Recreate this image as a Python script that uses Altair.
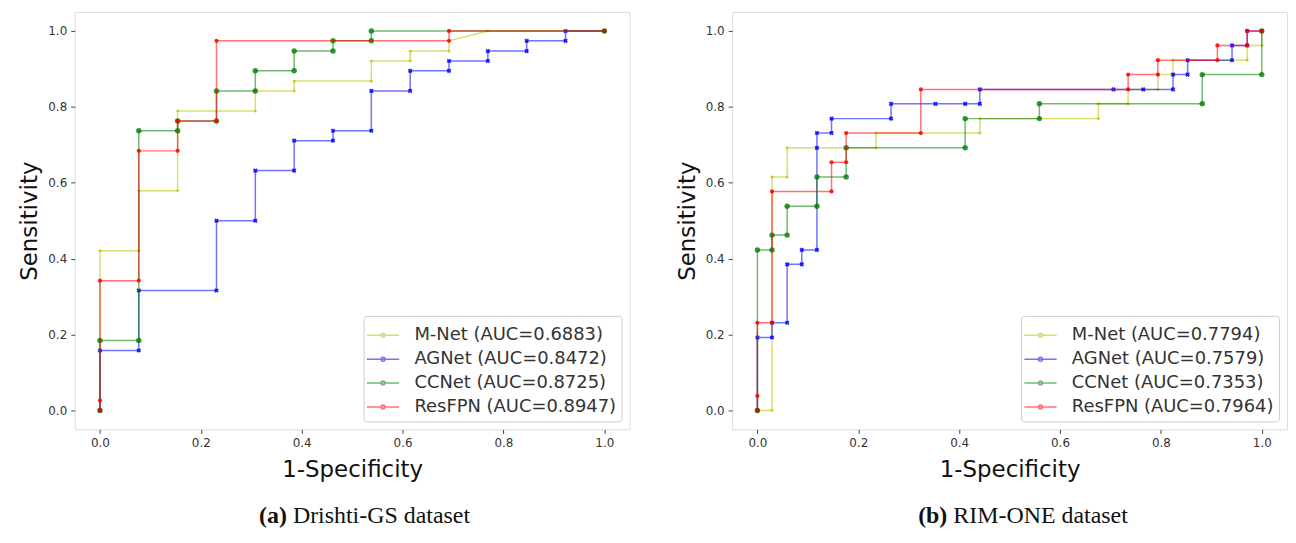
import altair as alt
import pandas as pd

names = ["M-Net", "AGNet", "CCNet", "ResFPN"]
colors = ["#bfbf00", "#0000ff", "#008000", "#ff0000"]
auc_a = ["0.6883", "0.8472", "0.8725", "0.8947"]
auc_b = ["0.7794", "0.7579", "0.7353", "0.7964"]
tick_vals = [0.0, 0.2, 0.4, 0.6, 0.8, 1.0]

# (a) Drishti-GS
a_mnet_x = [0, 0, 0.077, 0.077, 0.154, 0.154, 0.308, 0.308, 0.385, 0.385, 0.538, 0.538, 0.615, 0.615, 0.692, 0.692, 0.769, 1.0]
a_mnet_y = [0, 0.421, 0.421, 0.579, 0.579, 0.789, 0.789, 0.842, 0.842, 0.868, 0.868, 0.921, 0.921, 0.947, 0.947, 0.974, 1.0, 1.0]
a_agnet_x = [0, 0, 0.077, 0.077, 0.231, 0.231, 0.308, 0.308, 0.385, 0.385, 0.462, 0.462, 0.538, 0.538, 0.615, 0.615, 0.692, 0.692, 0.769, 0.769, 0.846, 0.846, 0.923, 0.923, 1.0]
a_agnet_y = [0, 0.158, 0.158, 0.316, 0.316, 0.5, 0.5, 0.632, 0.632, 0.711, 0.711, 0.737, 0.737, 0.842, 0.842, 0.895, 0.895, 0.921, 0.921, 0.947, 0.947, 0.974, 0.974, 1.0, 1.0]
a_ccnet_x = [0, 0, 0.077, 0.077, 0.154, 0.154, 0.231, 0.231, 0.308, 0.308, 0.385, 0.385, 0.462, 0.462, 0.538, 0.538, 1.0]
a_ccnet_y = [0, 0.184, 0.184, 0.737, 0.737, 0.763, 0.763, 0.842, 0.842, 0.895, 0.895, 0.947, 0.947, 0.974, 0.974, 1.0, 1.0]
a_resfpn_x = [0, 0, 0, 0.077, 0.077, 0.154, 0.154, 0.231, 0.231, 0.692, 0.692, 1.0]
a_resfpn_y = [0, 0.026, 0.342, 0.342, 0.684, 0.684, 0.763, 0.763, 0.974, 0.974, 1.0, 1.0]

# (b) RIM-ONE
b_mnet_x = [0, 0.029, 0.029, 0.059, 0.059, 0.235, 0.235, 0.441, 0.441, 0.676, 0.676, 0.735, 0.735, 0.794, 0.794, 0.824, 0.824, 0.971, 0.971, 1.0, 1.0]
b_mnet_y = [0, 0, 0.615, 0.615, 0.692, 0.692, 0.731, 0.731, 0.769, 0.769, 0.808, 0.808, 0.846, 0.846, 0.885, 0.885, 0.923, 0.923, 0.962, 0.962, 1.0]
b_agnet_x = [0, 0, 0.029, 0.029, 0.059, 0.059, 0.088, 0.088, 0.118, 0.118, 0.118, 0.147, 0.147, 0.265, 0.265, 0.353, 0.412, 0.441, 0.441, 0.706, 0.765, 0.824, 0.824, 0.853, 0.853, 0.941, 0.941, 0.971, 0.971, 1.0]
b_agnet_y = [0, 0.192, 0.192, 0.231, 0.231, 0.385, 0.385, 0.423, 0.423, 0.692, 0.731, 0.731, 0.769, 0.769, 0.808, 0.808, 0.808, 0.808, 0.846, 0.846, 0.846, 0.846, 0.885, 0.885, 0.923, 0.923, 0.962, 0.962, 1.0, 1.0]
b_ccnet_x = [0, 0, 0.029, 0.029, 0.059, 0.059, 0.118, 0.118, 0.176, 0.176, 0.412, 0.412, 0.559, 0.559, 0.882, 0.882, 1.0, 1.0]
b_ccnet_y = [0, 0.423, 0.423, 0.462, 0.462, 0.538, 0.538, 0.615, 0.615, 0.692, 0.692, 0.769, 0.769, 0.808, 0.808, 0.885, 0.885, 1.0]
b_resfpn_x = [0, 0, 0, 0.029, 0.029, 0.147, 0.147, 0.176, 0.176, 0.324, 0.324, 0.735, 0.735, 0.794, 0.794, 0.912, 0.912, 0.971, 0.971, 1.0]
b_resfpn_y = [0, 0.038, 0.231, 0.231, 0.577, 0.577, 0.654, 0.654, 0.731, 0.731, 0.846, 0.846, 0.885, 0.885, 0.923, 0.923, 0.962, 0.962, 1.0, 1.0]

W, H = 557, 419

marker_kw = [
    dict(shape="cross", size=10, filled=True, opacity=0.8),
    dict(shape="cross", size=22, filled=True, angle=45, opacity=0.85),
    dict(shape="circle", size=30, filled=True, opacity=0.8),
    dict(shape="circle", size=18, filled=True, opacity=0.85),
]

legend_symbol = "M-1.2,0H1.2M-0.15,0A0.15,0.15 0 1 1 0.15,0A0.15,0.15 0 1 1 -0.15,0Z"


def panel(xs, ys, aucs, tag, caption, cap_x):
    labels = [f"{n} (AUC={a})" for n, a in zip(names, aucs)]
    rows = []
    for lab, x, y in zip(labels, xs, ys):
        for i, (xv, yv) in enumerate(zip(x, y)):
            rows.append({"series": lab, "fpr": xv, "tpr": yv, "i": i})
    df = pd.DataFrame(rows)
    common = dict(values=tick_vals, format=".1f", grid=False, domain=False,
                  tickColor="#444", tickSize=4, tickWidth=1,
                  labelFont="DejaVu Sans", labelFontSize=12, labelColor="#333",
                  titleFont="DejaVu Sans", titleFontSize=23, titleFontWeight="normal",
                  titleColor="#111", labelPadding=4)
    xenc = alt.X("fpr:Q", scale=alt.Scale(domain=[-0.05, 1.05], nice=False, zero=False),
                 axis=alt.Axis(titlePadding=10, **common), title="1-Specificity")
    yenc = alt.Y("tpr:Q", scale=alt.Scale(domain=[-0.05, 1.05], nice=False, zero=False),
                 axis=alt.Axis(titlePadding=6, **common), title="Sensitivity")
    color = alt.Color("series:N", scale=alt.Scale(domain=labels, range=colors),
                      legend=alt.Legend(title=None, orient="bottom-right", offset=8,
                                        padding=5, strokeColor="#cccccc", cornerRadius=3,
                                        fillColor="white", labelFont="DejaVu Sans",
                                        labelFontSize=18, labelColor="#333", labelLimit=400,
                                        symbolType=legend_symbol, symbolSize=729,
                                        symbolStrokeWidth=1.5, labelOffset=17,
                                        rowPadding=0))
    layers = []
    for k, lab in enumerate(labels):
        base = alt.Chart(df).transform_filter(alt.datum.series == lab)
        line = base.mark_line(strokeWidth=1.5, opacity=0.55).encode(
            x=xenc, y=yenc, order=alt.Order("i:Q"), color=color)
        pts = base.mark_point(**marker_kw[k]).encode(
            x=xenc, y=yenc, color=alt.value(colors[k]))
        layers += [line, pts]
    cap = pd.DataFrame({"t": [tag], "c": [caption]})
    t1 = alt.Chart(cap).mark_text(font="Liberation Serif", fontSize=24, fontWeight="bold",
                                  align="right", baseline="alphabetic", color="#111").encode(
        x=alt.value(cap_x), y=alt.value(513), text="t:N")
    t2 = alt.Chart(cap).mark_text(font="Liberation Serif", fontSize=24, fontWeight="normal",
                                  align="left", baseline="alphabetic", color="#111").encode(
        x=alt.value(cap_x + 6), y=alt.value(513), text="c:N")
    return alt.layer(*layers, t1, t2).properties(width=W, height=H)


left = panel([a_mnet_x, a_agnet_x, a_ccnet_x, a_resfpn_x],
             [a_mnet_y, a_agnet_y, a_ccnet_y, a_resfpn_y], auc_a, "(a)", "Drishti-GS dataset", 213)
right = panel([b_mnet_x, b_agnet_x, b_ccnet_x, b_resfpn_x],
              [b_mnet_y, b_agnet_y, b_ccnet_y, b_resfpn_y], auc_b, "(b)", "RIM-ONE dataset", 216)

chart = alt.hconcat(left, right, spacing=45).resolve_scale(color="independent").resolve_legend(
    color="independent").properties(
    padding={"left": 10, "top": 2, "right": 0, "bottom": 0}
).configure_view(stroke="#555", strokeWidth=1).configure(background="white")

chart.save("out.html", embed_options={"renderer": "svg", "actions": False})
